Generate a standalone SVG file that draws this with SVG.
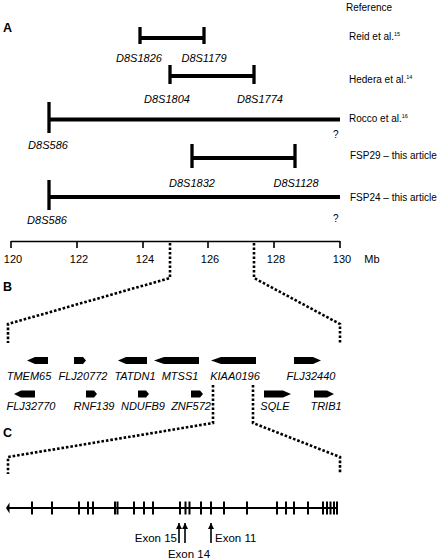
<svg xmlns="http://www.w3.org/2000/svg" width="444" height="560" viewBox="0 0 444 560">
<style>
text{font-family:"Liberation Sans",Arial,sans-serif;fill:#000}
.lab{font-size:11px;font-style:italic;text-anchor:middle}
.ref{font-size:10px}
.sup{font-size:5.5px}
.sec{font-size:12.5px;font-weight:bold}
.ax{font-size:11px;text-anchor:middle}
.ex{font-size:11.5px}
.bar{stroke:#000;stroke-width:4;fill:none}
.tk{stroke:#000;stroke-width:3.3;fill:none}
.axl{stroke:#000;stroke-width:1.6;fill:none}
.dot{stroke:#000;stroke-width:2.6;stroke-dasharray:2.6 1.9;fill:none}
.gene{fill:#000}
.ext{stroke:#000;stroke-width:2}
</style>
<defs>
<marker id="ah" viewBox="0 0 10 10" refX="10" refY="5" markerWidth="7" markerHeight="6" markerUnits="userSpaceOnUse" orient="auto"><path d="M0,0 L10,5 L0,10 Z" fill="#000"/></marker>
</defs>

<text class="sec" x="3" y="32">A</text>
<text class="sec" x="3" y="291">B</text>
<text class="sec" x="3" y="437">C</text>

<text class="ref" x="346" y="11">Reference</text>

<g id="reid">
<line class="bar" x1="140" y1="38" x2="204" y2="38"/>
<line class="tk" x1="140" y1="27" x2="140" y2="44"/>
<line class="tk" x1="204" y1="27" x2="204" y2="44"/>
<text class="lab" x="139" y="62">D8S1826</text>
<text class="lab" x="204" y="62">D8S1179</text>
<text class="ref" x="349" y="40">Reid et al.<tspan class="sup" dy="-4">15</tspan></text>
</g>
<g id="hedera">
<line class="bar" x1="170" y1="76" x2="254" y2="76"/>
<line class="tk" x1="170" y1="65" x2="170" y2="84"/>
<line class="tk" x1="254" y1="65" x2="254" y2="84"/>
<text class="lab" x="167" y="103">D8S1804</text>
<text class="lab" x="260" y="103">D8S1774</text>
<text class="ref" x="349" y="83">Hedera et al.<tspan class="sup" dy="-4">14</tspan></text>
</g>
<g id="rocco">
<line class="bar" x1="49" y1="119.5" x2="340" y2="119.5"/>
<line class="tk" x1="49" y1="102" x2="49" y2="133"/>
<text class="lab" x="48" y="149">D8S586</text>
<text class="ref" x="333" y="138">?</text>
<text class="ref" x="349" y="122">Rocco et al.<tspan class="sup" dy="-4">16</tspan></text>
</g>
<g id="fsp29">
<line class="bar" x1="192" y1="158" x2="295" y2="158"/>
<line class="tk" x1="192" y1="144" x2="192" y2="168"/>
<line class="tk" x1="295" y1="144" x2="295" y2="168"/>
<text class="lab" x="192" y="187">D8S1832</text>
<text class="lab" x="296" y="187">D8S1128</text>
<text class="ref" x="350" y="159">FSP29 – this article</text>
</g>
<g id="fsp24">
<line class="bar" x1="49" y1="197" x2="340" y2="197"/>
<line class="tk" x1="49" y1="180" x2="49" y2="210"/>
<text class="lab" x="47" y="224">D8S586</text>
<text class="ref" x="333" y="222">?</text>
<text class="ref" x="350" y="201">FSP24 – this article</text>
</g>

<g id="axis">
<line class="axl" x1="11" y1="241.5" x2="340" y2="241.5"/>
<path class="axl" d="M11,241V248M77,241V248M143,241V248M208,241V248M274,241V248M340,241V248"/>
<text class="ax" x="13" y="263">120</text>
<text class="ax" x="79" y="263">122</text>
<text class="ax" x="145" y="263">124</text>
<text class="ax" x="210" y="263">126</text>
<text class="ax" x="276" y="263">128</text>
<text class="ax" x="342" y="263">130</text>
<text class="ax" x="372" y="263">Mb</text>
</g>

<g id="connectors">
<polyline class="dot" points="170,243 170,278 8,324 8,343"/>
<polyline class="dot" points="254,243 254,278 340,324 340,343"/>
<polyline class="dot" points="213,385 213,423 8,457 8,474"/>
<polyline class="dot" points="253,385 253,423 340,457 340,474"/>
</g>

<g id="genes">
<g id="TMEM65"><path class="gene" d="M27,360.5L35,357H48V364H35Z"/><text class="lab" x="29" y="380">TMEM65</text></g>
<g id="FLJ20772"><path class="gene" d="M74,357H83L86,360.5L83,364H74Z"/><text class="lab" x="83" y="380">FLJ20772</text></g>
<g id="TATDN1"><path class="gene" d="M118,360.5L126,357H147V364H126Z"/><text class="lab" x="135" y="380">TATDN1</text></g>
<g id="MTSS1"><path class="gene" d="M154,360.5L164,357H199V364H164Z"/><text class="lab" x="180" y="380">MTSS1</text></g>
<g id="KIAA0196"><path class="gene" d="M211,360.5L221,357H256V364H221Z"/><text class="lab" x="235" y="380">KIAA0196</text></g>
<g id="FLJ32440"><path class="gene" d="M294,357H313L321,360.5L313,364H294Z"/><text class="lab" x="311" y="380">FLJ32440</text></g>
<g id="FLJ32770"><path class="gene" d="M14,394L21,390.5H35V397.5H21Z"/><text class="lab" x="31" y="410">FLJ32770</text></g>
<g id="RNF139"><path class="gene" d="M86,390.5H94L97,394L94,397.5H86Z"/><text class="lab" x="94" y="410">RNF139</text></g>
<g id="NDUFB9"><path class="gene" d="M138,390.5H146L149,394L146,397.5H138Z"/><text class="lab" x="143" y="410">NDUFB9</text></g>
<g id="ZNF572"><path class="gene" d="M191,390.5H200L203,394L200,397.5H191Z"/><text class="lab" x="191" y="410">ZNF572</text></g>
<g id="SQLE"><path class="gene" d="M264,390.5H283L291,394L283,397.5H264Z"/><text class="lab" x="275" y="410">SQLE</text></g>
<g id="TRIB1"><path class="gene" d="M314,390.5H327L334,394L327,397.5H314Z"/><text class="lab" x="326" y="410">TRIB1</text></g>
</g>

<g id="kiaa-structure">
<line x1="8" y1="508" x2="337" y2="508" stroke="#000" stroke-width="2"/>
<path d="M6,508L9.5,502.5V513.5Z" fill="#000"/>
<path class="ext" d="M32,501.5V514.5M52,501.5V514.5M79,501.5V514.5M88,501.5V514.5M93,501.5V514.5M115,501.5V514.5M117.5,501.5V514.5M134,501.5V514.5M144,501.5V514.5M153,501.5V514.5M180,501.5V514.5M185.5,501.5V514.5M189.5,501.5V514.5M201,501.5V514.5M211,501.5V514.5M224,501.5V514.5M247,501.5V514.5M277,501.5V514.5M286,501.5V514.5M294,501.5V514.5M308,501.5V514.5M323,501.5V514.5M327,501.5V514.5M330.5,501.5V514.5M334,501.5V514.5M337,501.5V514.5"/>
</g>

<g id="exons">
<line x1="179" y1="543" x2="179" y2="523" stroke="#000" stroke-width="1.6" marker-end="url(#ah)"/>
<line x1="185" y1="543" x2="185" y2="523" stroke="#000" stroke-width="1.6" marker-end="url(#ah)"/>
<line x1="211" y1="543" x2="211" y2="523" stroke="#000" stroke-width="1.6" marker-end="url(#ah)"/>
<text class="ex" x="177" y="542" text-anchor="end">Exon 15</text>
<text class="ex" x="189" y="558" text-anchor="middle">Exon 14</text>
<text class="ex" x="215" y="542">Exon 11</text>
</g>
</svg>
